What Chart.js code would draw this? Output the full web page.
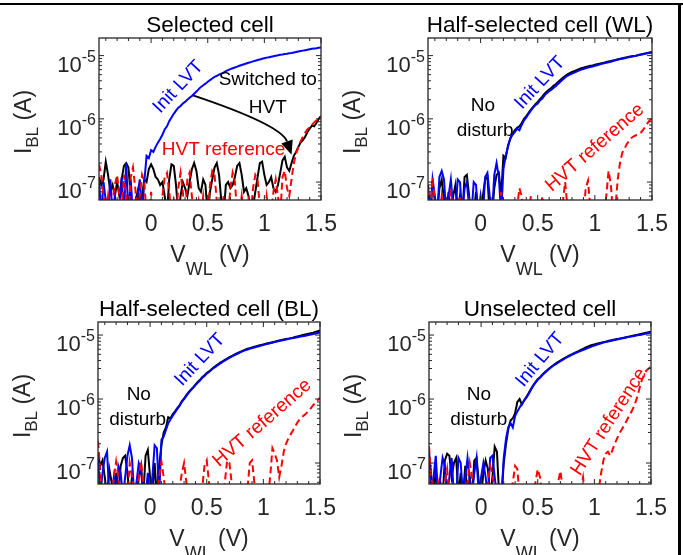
<!DOCTYPE html>
<html>
<head>
<meta charset="utf-8">
<script src="https://cdn.jsdelivr.net/npm/chart.js@4.4.0/dist/chart.umd.min.js"></script>
<style>
  html, body { margin: 0; padding: 0; background: #fff; }
  #page { position: relative; width: 683px; height: 555px; overflow: hidden; background: #fff; }
  #page canvas { position: absolute; }
  .rule { position: absolute; background: #000; }
</style>
</head>
<body>
<div id="page">
  <canvas id="c1" width="340" height="280" style="left:0;top:0"></canvas>
  <canvas id="c2" width="343" height="280" style="left:340px;top:0"></canvas>
  <canvas id="c3" width="340" height="275" style="left:0;top:280px"></canvas>
  <canvas id="c4" width="343" height="275" style="left:340px;top:280px"></canvas>
  <div class="rule" style="left:0;top:3px;width:683px;height:2px"></div>
  <div class="rule" style="left:678px;top:3px;width:3px;height:552px"></div>
</div>
<script>
(function () {
  "use strict";

  // V_WL sweep (V), shared by every curve
  var voltage = [
    -0.46, -0.44, -0.42, -0.40, -0.38, -0.36, -0.34, -0.32, -0.30, -0.28,
    -0.26, -0.24, -0.22, -0.20, -0.18, -0.16, -0.14, -0.12, -0.10, -0.08,
    -0.06, -0.04, -0.02, 0, 0.02, 0.04, 0.06, 0.08, 0.10, 0.12,
    0.14, 0.16, 0.18, 0.20, 0.22, 0.24, 0.26, 0.28, 0.30, 0.32,
    0.34, 0.36, 0.38, 0.40, 0.42, 0.44, 0.46, 0.48, 0.50, 0.52,
    0.54, 0.56, 0.58, 0.60, 0.62, 0.64, 0.66, 0.68, 0.70, 0.72,
    0.74, 0.76, 0.78, 0.80, 0.82, 0.84, 0.86, 0.88, 0.90, 0.92,
    0.94, 0.96, 0.98, 1.00, 1.02, 1.04, 1.06, 1.08, 1.10, 1.12,
    1.14, 1.16, 1.18, 1.20, 1.22, 1.24, 1.26, 1.28, 1.30, 1.32,
    1.34, 1.36, 1.38, 1.40, 1.42, 1.44, 1.46, 1.48, 1.50
  ];

  // I_BL (A), selected cell
  var selBlue = [
    1.1e-7, 3e-8, 1.0e-7, 5e-8, 3e-8, 1.1e-7, 3e-8, 6e-8, 3e-8, 3e-8,
    1.2e-7, 3e-8, 2.0e-7, 3e-8, 1.1e-7, 3e-8, 3e-8, 6e-8, 1.1e-7, 3e-8,
    1.0e-7, 2.6e-7, 2.4e-7, 3.2e-7, 3.0e-7, 3.6e-7, 4.2e-7, 4.8e-7, 5.6e-7, 6.8e-7,
    7.6e-7, 9.2e-7, 1.05e-6, 1.2e-6, 1.35e-6, 1.5e-6, 1.6e-6, 1.75e-6, 1.85e-6, 2.0e-6,
    2.15e-6, 2.3e-6, 2.5e-6, 2.7e-6, 2.95e-6, 3.2e-6, 3.4e-6, 3.6e-6, 3.85e-6, 4.1e-6,
    4.35e-6, 4.6e-6, 4.8e-6, 5.0e-6, 5.2e-6, 5.4e-6, 5.7e-6, 5.9e-6, 6.1e-6, 6.3e-6,
    6.5e-6, 6.7e-6, 6.9e-6, 7.1e-6, 7.3e-6, 7.5e-6, 7.7e-6, 7.9e-6, 8.1e-6, 8.3e-6,
    8.5e-6, 8.7e-6, 8.9e-6, 9.1e-6, 9.3e-6, 9.4e-6, 9.6e-6, 9.8e-6, 9.95e-6, 1.01e-5,
    1.03e-5, 1.04e-5, 1.06e-5, 1.07e-5, 1.09e-5, 1.1e-5, 1.12e-5, 1.14e-5, 1.16e-5, 1.18e-5,
    1.2e-5, 1.22e-5, 1.24e-5, 1.26e-5, 1.28e-5, 1.3e-5, 1.31e-5, 1.33e-5, 1.35e-5
  ];
  var selBlack = [
    1.2e-7, 9e-8, 1.1e-7, 2.1e-7, 1.3e-7, 7e-8, 9e-8, 6e-8, 1.0e-7, 6e-8,
    1.1e-7, 1.8e-7, 2.0e-7, 1.7e-7, 6e-8, 3e-8, 5e-8, 7e-8, 3e-8, 6e-8,
    1.1e-7, 1.0e-7, 1.6e-7, 1.9e-7, 1.6e-7, 1.2e-7, 1.1e-7, 9e-8, 1.0e-7, 6e-8,
    3e-8, 1.1e-7, 1.9e-7, 1.8e-7, 9e-8, 3e-8, 6e-8, 1.0e-7, 8e-8, 6e-8,
    1.0e-7, 1.6e-7, 2.0e-7, 1.5e-7, 8e-8, 7e-8, 1.1e-7, 9e-8, 3e-8, 7e-8,
    1.1e-7, 1.7e-7, 2.0e-7, 1.3e-7, 5e-8, 3e-8, 9e-8, 1.0e-7, 8e-8, 9e-8,
    1.2e-7, 1.8e-7, 2.0e-7, 1.3e-7, 7e-8, 8e-8, 6e-8, 3e-8, 4e-8, 7e-8,
    1.2e-7, 2.0e-7, 2.1e-7, 1.3e-7, 9e-8, 1.0e-7, 1.2e-7, 8e-8, 7e-8, 9e-8,
    1.4e-7, 2.2e-7, 2.5e-7, 1.7e-7, 1.5e-7, 2.0e-7, 2.6e-7, 3.0e-7, 3.6e-7, 4.2e-7,
    4.6e-7, 5.2e-7, 6.2e-7, 7.0e-7, 7.8e-7, 7.6e-7, 8.6e-7, 1.0e-6, 1.1e-6
  ];
  var selRed = [
    1.9e-7, 1.3e-7, 6e-8, 3e-8, 6e-8, 3e-8, 5e-8, 9e-8, 1.3e-7, 6e-8,
    3e-8, 1.3e-7, 6e-8, 3e-8, 1.2e-7, 1.7e-7, 8e-8, 3e-8, 6e-8, 1.3e-7,
    1.0e-7, 3e-8, 3e-8, 7e-8, 3e-8, 5e-8, 3e-8, 3e-8, 6e-8, 1.2e-7,
    1.4e-7, 7e-8, 3e-8, 5e-8, 3e-8, 8e-8, 1.4e-7, 7e-8, 3e-8, 1.1e-7,
    1.4e-7, 6e-8, 3e-8, 3e-8, 5e-8, 3e-8, 6e-8, 3e-8, 3e-8, 9e-8,
    1.5e-7, 1.3e-7, 5e-8, 3e-8, 3e-8, 6e-8, 3e-8, 3e-8, 8e-8, 1.4e-7,
    1.0e-7, 3e-8, 3e-8, 6e-8, 3e-8, 3e-8, 5e-8, 3e-8, 8e-8, 1.3e-7,
    1.1e-7, 4e-8, 3e-8, 3e-8, 6e-8, 3e-8, 3e-8, 7e-8, 1.1e-7, 6e-8,
    3e-8, 1.2e-7, 1.5e-7, 8e-8, 6e-8, 1.1e-7, 2.0e-7, 2.8e-7, 3.6e-7, 4.4e-7,
    5.2e-7, 6.0e-7, 6.8e-7, 7.4e-7, 8.0e-7, 8.8e-7, 9.5e-7, 1.03e-6, 1.1e-6
  ];

  // I_BL (A), half-selected cell (WL)
  var wlBlue = [
    6e-8, 3e-8, 1.1e-7, 6e-8, 3e-8, 1.2e-7, 1.5e-7, 1.1e-7, 3e-8, 6e-8,
    1.1e-7, 4e-8, 3e-8, 1.1e-7, 1.0e-7, 3e-8, 8e-8, 1.0e-7, 4e-8, 3e-8,
    1.0e-7, 9e-8, 3e-8, 6e-8, 3e-8, 1.2e-7, 1.4e-7, 6e-8, 3e-8, 1.3e-7,
    2.0e-7, 1.2e-7, 3e-8, 1.6e-7, 2.6e-7, 3.6e-7, 5.0e-7, 5.6e-7, 6.2e-7, 7.0e-7,
    6.6e-7, 8.0e-7, 9.5e-7, 1.05e-6, 1.2e-6, 1.35e-6, 1.5e-6, 1.65e-6, 1.75e-6, 1.95e-6,
    2.1e-6, 2.35e-6, 2.55e-6, 2.75e-6, 2.9e-6, 3.1e-6, 3.3e-6, 3.6e-6, 3.9e-6, 4.2e-6,
    4.5e-6, 4.8e-6, 5.0e-6, 5.2e-6, 5.4e-6, 5.6e-6, 5.8e-6, 6.0e-6, 6.15e-6, 6.3e-6,
    6.45e-6, 6.6e-6, 6.75e-6, 6.9e-6, 7.05e-6, 7.2e-6, 7.4e-6, 7.55e-6, 7.7e-6, 7.85e-6,
    8.0e-6, 8.2e-6, 8.4e-6, 8.6e-6, 8.8e-6, 8.95e-6, 9.1e-6, 9.3e-6, 9.45e-6, 9.6e-6,
    9.8e-6, 9.95e-6, 1.01e-5, 1.03e-5, 1.05e-5, 1.07e-5, 1.09e-5, 1.1e-5, 1.12e-5
  ];
  var wlBlack = [
    9e-8, 3e-8, 1.0e-7, 5e-8, 3e-8, 8e-8, 1.1e-7, 5e-8, 3e-8, 7e-8,
    3e-8, 6e-8, 9e-8, 3e-8, 6e-8, 3e-8, 1.2e-7, 1.3e-7, 6e-8, 3e-8,
    3e-8, 7e-8, 3e-8, 3e-8, 6e-8, 1.1e-7, 1.2e-7, 3e-8, 3e-8, 8e-8,
    1.3e-7, 1.4e-7, 6e-8, 2.6e-7, 2.4e-7, 3.8e-7, 4.8e-7, 5.8e-7, 6.6e-7, 7.2e-7,
    7.6e-7, 8.6e-7, 1.0e-6, 1.1e-6, 1.25e-6, 1.4e-6, 1.55e-6, 1.7e-6, 1.85e-6, 2.05e-6,
    2.25e-6, 2.5e-6, 2.7e-6, 2.9e-6, 3.1e-6, 3.35e-6, 3.55e-6, 3.85e-6, 4.15e-6, 4.45e-6,
    4.75e-6, 5.05e-6, 5.3e-6, 5.5e-6, 5.7e-6, 5.9e-6, 6.1e-6, 6.3e-6, 6.45e-6, 6.6e-6,
    6.75e-6, 6.9e-6, 7.0e-6, 7.15e-6, 7.3e-6, 7.45e-6, 7.6e-6, 7.75e-6, 7.9e-6, 8.05e-6,
    8.2e-6, 8.4e-6, 8.55e-6, 8.75e-6, 8.9e-6, 9.1e-6, 9.25e-6, 9.4e-6, 9.6e-6, 9.75e-6,
    9.9e-6, 1.0e-5, 1.02e-5, 1.04e-5, 1.06e-5, 1.08e-5, 1.1e-5, 1.12e-5, 1.14e-5
  ];
  var wlRed = [
    8e-8, 3e-8, 1.2e-7, 5e-8, 3e-8, 3e-8, 6e-8, 3e-8, 3e-8, 5e-8,
    7e-8, 3e-8, 3e-8, 3e-8, 6e-8, 3e-8, 3e-8, 3e-8, 5e-8, 3e-8,
    3e-8, 3e-8, 3e-8, 6e-8, 3e-8, 3e-8, 3e-8, 3e-8, 3e-8, 5e-8,
    3e-8, 3e-8, 7e-8, 3e-8, 3e-8, 3e-8, 3e-8, 3e-8, 3e-8, 4e-8,
    8e-8, 6e-8, 3e-8, 3e-8, 3e-8, 6e-8, 3e-8, 3e-8, 3e-8, 3e-8,
    6e-8, 3e-8, 3e-8, 3e-8, 3e-8, 3e-8, 3e-8, 3e-8, 3e-8, 5e-8,
    1.0e-7, 4e-8, 3e-8, 3e-8, 3e-8, 3e-8, 3e-8, 3e-8, 3e-8, 8e-8,
    1.05e-7, 4e-8, 3e-8, 3e-8, 3e-8, 3e-8, 3e-8, 3e-8, 6e-8, 1.5e-7,
    9e-8, 3e-8, 4e-8, 1.1e-7, 2.0e-7, 2.9e-7, 3.4e-7, 4.0e-7, 4.5e-7, 5.0e-7,
    5.3e-7, 5.5e-7, 5.7e-7, 6.0e-7, 6.6e-7, 7.5e-7, 8.5e-7, 9.5e-7, 1.0e-6
  ];

  // I_BL (A), half-selected cell (BL)
  var blBlue = [
    1.3e-7, 3e-8, 7e-8, 1.2e-7, 1.5e-7, 3e-8, 3e-8, 6e-8, 3e-8, 9e-8,
    7e-8, 3e-8, 6e-8, 1.3e-7, 1.9e-7, 1.2e-7, 3e-8, 5e-8, 1.0e-7, 8e-8,
    3e-8, 3e-8, 7e-8, 3e-8, 6e-8, 1.9e-7, 1.7e-7, 3e-8, 2.3e-7, 2.6e-7,
    3.3e-7, 4.2e-7, 4.8e-7, 5.5e-7, 6.2e-7, 7.0e-7, 7.8e-7, 9.0e-7, 1.0e-6, 1.12e-6,
    1.25e-6, 1.38e-6, 1.5e-6, 1.65e-6, 1.8e-6, 1.95e-6, 2.15e-6, 2.3e-6, 2.5e-6, 2.65e-6,
    2.85e-6, 3.05e-6, 3.2e-6, 3.4e-6, 3.6e-6, 3.8e-6, 4.0e-6, 4.2e-6, 4.4e-6, 4.6e-6,
    4.8e-6, 5.0e-6, 5.2e-6, 5.4e-6, 5.6e-6, 5.8e-6, 5.95e-6, 6.1e-6, 6.25e-6, 6.4e-6,
    6.55e-6, 6.7e-6, 6.85e-6, 7.0e-6, 7.15e-6, 7.3e-6, 7.45e-6, 7.6e-6, 7.75e-6, 7.9e-6,
    8.05e-6, 8.2e-6, 8.35e-6, 8.5e-6, 8.65e-6, 8.8e-6, 8.95e-6, 9.1e-6, 9.25e-6, 9.4e-6,
    9.55e-6, 9.7e-6, 9.85e-6, 1.0e-5, 1.02e-5, 1.04e-5, 1.06e-5, 1.08e-5, 1.1e-5
  ];
  var blBlack = [
    1.4e-7, 9e-8, 1.1e-7, 6e-8, 3e-8, 8e-8, 5e-8, 3e-8, 7e-8, 3e-8,
    9e-8, 1.2e-7, 1.3e-7, 7e-8, 3e-8, 6e-8, 3e-8, 3e-8, 6e-8, 9e-8,
    3e-8, 1.3e-7, 1.6e-7, 6e-8, 3e-8, 1.0e-7, 3e-8, 9e-8, 1.9e-7, 3.0e-7,
    3.6e-7, 5.2e-7, 5.0e-7, 5.8e-7, 6.4e-7, 7.2e-7, 8.0e-7, 9.2e-7, 1.02e-6, 1.15e-6,
    1.28e-6, 1.4e-6, 1.52e-6, 1.68e-6, 1.85e-6, 2.0e-6, 2.2e-6, 2.35e-6, 2.55e-6, 2.7e-6,
    2.9e-6, 3.1e-6, 3.3e-6, 3.5e-6, 3.7e-6, 3.9e-6, 4.1e-6, 4.3e-6, 4.5e-6, 4.7e-6,
    4.9e-6, 5.1e-6, 5.3e-6, 5.5e-6, 5.7e-6, 5.9e-6, 6.1e-6, 6.25e-6, 6.4e-6, 6.55e-6,
    6.7e-6, 6.85e-6, 7.0e-6, 7.15e-6, 7.3e-6, 7.45e-6, 7.6e-6, 7.75e-6, 7.9e-6, 8.05e-6,
    8.2e-6, 8.35e-6, 8.5e-6, 8.65e-6, 8.8e-6, 8.95e-6, 9.1e-6, 9.3e-6, 9.5e-6, 9.7e-6,
    9.9e-6, 1.01e-5, 1.03e-5, 1.05e-5, 1.07e-5, 1.09e-5, 1.12e-5, 1.15e-5, 1.18e-5
  ];
  var blRed = [
    2.2e-7, 8e-8, 3e-8, 3e-8, 3e-8, 5e-8, 3e-8, 6e-8, 1.05e-7, 6e-8,
    3e-8, 3e-8, 5e-8, 3e-8, 1.0e-7, 6e-8, 3e-8, 3e-8, 6e-8, 1.05e-7,
    5e-8, 3e-8, 3e-8, 3e-8, 4e-8, 3e-8, 3e-8, 6e-8, 1.05e-7, 6e-8,
    3e-8, 3e-8, 3e-8, 3e-8, 3e-8, 3e-8, 4e-8, 7e-8, 1.0e-7, 5e-8,
    3e-8, 3e-8, 3e-8, 3e-8, 3e-8, 3e-8, 4e-8, 9e-8, 1.1e-7, 5e-8,
    3e-8, 3e-8, 3e-8, 3e-8, 3e-8, 3e-8, 5e-8, 1.1e-7, 1.0e-7, 5e-8,
    3e-8, 3e-8, 3e-8, 3e-8, 3e-8, 3e-8, 4e-8, 1.0e-7, 1.1e-7, 5e-8,
    3e-8, 3e-8, 3e-8, 3e-8, 3e-8, 3e-8, 6e-8, 1.7e-7, 1.4e-7, 1.1e-7,
    6e-8, 9e-8, 1.5e-7, 2.0e-7, 2.4e-7, 2.8e-7, 3.2e-7, 3.7e-7, 4.3e-7, 4.8e-7,
    5.2e-7, 5.6e-7, 6.0e-7, 6.5e-7, 7.2e-7, 8.0e-7, 8.8e-7, 9.6e-7, 1.05e-6
  ];

  // I_BL (A), unselected cell
  var unBlue = [
    1.4e-7, 3e-8, 6e-8, 1.3e-7, 3e-8, 6e-8, 1.2e-7, 9e-8, 3e-8, 6e-8,
    1.2e-7, 3e-8, 3e-8, 1.2e-7, 1.0e-7, 3e-8, 6e-8, 1.2e-7, 5e-8, 3e-8,
    7e-8, 1.2e-7, 3e-8, 6e-8, 1.0e-7, 6e-8, 3e-8, 1.2e-7, 1.3e-7, 6e-8,
    3e-8, 3e-8, 3e-8, 1.2e-7, 2.4e-7, 3.6e-7, 4.2e-7, 3.6e-7, 5.4e-7, 6.4e-7,
    7.4e-7, 8.4e-7, 9.4e-7, 1.05e-6, 1.2e-6, 1.4e-6, 1.6e-6, 1.8e-6, 2.0e-6, 2.15e-6,
    2.35e-6, 2.55e-6, 2.75e-6, 2.95e-6, 3.15e-6, 3.35e-6, 3.5e-6, 3.7e-6, 3.9e-6, 4.1e-6,
    4.3e-6, 4.5e-6, 4.7e-6, 4.9e-6, 5.1e-6, 5.3e-6, 5.45e-6, 5.65e-6, 5.85e-6, 6.05e-6,
    6.25e-6, 6.45e-6, 6.65e-6, 6.85e-6, 7.05e-6, 7.25e-6, 7.45e-6, 7.65e-6, 7.8e-6, 7.95e-6,
    8.1e-6, 8.25e-6, 8.4e-6, 8.55e-6, 8.7e-6, 8.85e-6, 9.0e-6, 9.15e-6, 9.3e-6, 9.45e-6,
    9.6e-6, 9.75e-6, 9.9e-6, 1.0e-5, 1.02e-5, 1.04e-5, 1.06e-5, 1.08e-5, 1.1e-5
  ];
  var unBlack = [
    1.5e-7, 6e-8, 3e-8, 8e-8, 3e-8, 5e-8, 3e-8, 1.1e-7, 1.4e-7, 1.3e-7,
    6e-8, 1.0e-7, 1.2e-7, 3e-8, 7e-8, 3e-8, 9e-8, 3e-8, 6e-8, 3e-8,
    1.1e-7, 1.2e-7, 5e-8, 3e-8, 7e-8, 1.1e-7, 8e-8, 3e-8, 6e-8, 1.8e-7,
    1.5e-7, 3e-8, 3e-8, 1.0e-7, 2.0e-7, 3.4e-7, 4.6e-7, 5.0e-7, 6.0e-7, 9.0e-7,
    1.0e-6, 8.2e-7, 9.6e-7, 1.08e-6, 1.24e-6, 1.44e-6, 1.64e-6, 1.84e-6, 2.05e-6, 2.2e-6,
    2.4e-6, 2.6e-6, 2.8e-6, 3.0e-6, 3.2e-6, 3.4e-6, 3.6e-6, 3.8e-6, 4.0e-6, 4.2e-6,
    4.4e-6, 4.6e-6, 4.8e-6, 5.0e-6, 5.2e-6, 5.4e-6, 5.6e-6, 5.85e-6, 6.1e-6, 6.35e-6,
    6.6e-6, 6.8e-6, 7.0e-6, 7.15e-6, 7.3e-6, 7.45e-6, 7.6e-6, 7.75e-6, 7.9e-6, 8.05e-6,
    8.2e-6, 8.35e-6, 8.5e-6, 8.65e-6, 8.8e-6, 8.95e-6, 9.1e-6, 9.25e-6, 9.4e-6, 9.55e-6,
    9.75e-6, 9.95e-6, 1.01e-5, 1.03e-5, 1.05e-5, 1.07e-5, 1.09e-5, 1.11e-5, 1.13e-5
  ];
  var unRed = [
    1.8e-7, 6e-8, 3e-8, 3e-8, 5e-8, 3e-8, 3e-8, 5e-8, 8e-8, 3e-8,
    3e-8, 3e-8, 4e-8, 3e-8, 3e-8, 3e-8, 3e-8, 5e-8, 1.0e-7, 6e-8,
    3e-8, 3e-8, 3e-8, 3e-8, 3e-8, 3e-8, 5e-8, 9e-8, 7e-8, 3e-8,
    3e-8, 3e-8, 3e-8, 3e-8, 3e-8, 3e-8, 3e-8, 5e-8, 9e-8, 8e-8,
    3e-8, 3e-8, 3e-8, 3e-8, 3e-8, 3e-8, 3e-8, 5e-8, 8e-8, 6e-8,
    3e-8, 3e-8, 3e-8, 3e-8, 3e-8, 3e-8, 3e-8, 5e-8, 7.5e-8, 4e-8,
    3e-8, 3e-8, 3e-8, 3e-8, 3e-8, 3e-8, 3e-8, 4e-8, 6e-8, 3e-8,
    3e-8, 3e-8, 3e-8, 3e-8, 3e-8, 4e-8, 7e-8, 1.1e-7, 1.4e-7, 1.5e-7,
    1.3e-7, 1.6e-7, 2.0e-7, 2.4e-7, 2.9e-7, 3.3e-7, 3.8e-7, 4.4e-7, 5.2e-7, 6.0e-7,
    7.0e-7, 8.6e-7, 1.1e-6, 1.5e-6, 2.0e-6, 2.4e-6, 2.8e-6, 3.0e-6, 3.2e-6
  ];

  var xTickValues = [0, 0.5, 1, 1.5];
  var xTickLabels = ["0", "0.5", "1", "1.5"];
  var yTickValues = [1e-7, 1e-6, 1e-5];
  var yTickExponents = ["-7", "-6", "-5"];

  var X_MIN = -0.46, X_MAX = 1.5;
  var BLUE = "#0000ff", RED = "#ff0000", BLACK = "#000000", AXIS = "#262626";
  var FAMILY = "'Liberation Sans', Arial, Helvetica, sans-serif";

  function font(size) {
    return size + "px " + FAMILY;
  }

  var panels = [
    {
      canvas: "c1", title: "Selected cell",
      yMin: 5.2e-8, yMax: 1.9e-5,
      pad: { left: 99, top: 38, right: 19, bottom: 80 },
      blue: selBlue, black: selBlack, red: selRed,
      notes: [
        { text: "Init LVT", at: [0.24, 3.2e-6], color: BLUE, angle: -47 },
        { text: "Switched to", at: [1.03, 4.1e-6], color: BLACK, angle: 0 },
        { text: "HVT", at: [1.03, 1.47e-6], color: BLACK, angle: 0 },
        { text: "HVT reference", at: [0.64, 3.2e-7], color: RED, angle: 0 }
      ],
      arrow: { from: [0.37, 2.35e-6], ctrl: [1.15, 8e-7], to: [1.24, 2.7e-7] }
    },
    {
      canvas: "c2", title: "Half-selected cell (WL)",
      yMin: 5.2e-8, yMax: 1.9e-5,
      pad: { left: 88, top: 38, right: 31, bottom: 80 },
      blue: wlBlue, black: wlBlack, red: wlRed,
      notes: [
        { text: "No", at: [0.02, 1.6e-6], color: BLACK, angle: 0 },
        { text: "disturb", at: [0.04, 6.4e-7], color: BLACK, angle: 0 },
        { text: "Init LVT", at: [0.52, 3.7e-6], color: BLUE, angle: -47 },
        { text: "HVT reference", at: [1.0, 3.5e-7], color: RED, angle: -41 }
      ]
    },
    {
      canvas: "c3", title: "Half-selected cell (BL)",
      yMin: 4.7e-8, yMax: 1.6e-5,
      pad: { left: 98, top: 42, right: 20, bottom: 71 },
      blue: blBlue, black: blBlack, red: blRed,
      notes: [
        { text: "No", at: [-0.1, 1.15e-6], color: BLACK, angle: 0 },
        { text: "disturb", at: [-0.11, 4.7e-7], color: BLACK, angle: 0 },
        { text: "Init LVT", at: [0.44, 4.1e-6], color: BLUE, angle: -47 },
        { text: "HVT reference", at: [0.99, 4.2e-7], color: RED, angle: -41 }
      ]
    },
    {
      canvas: "c4", title: "Unselected cell",
      yMin: 4.7e-8, yMax: 1.6e-5,
      pad: { left: 89, top: 42, right: 32, bottom: 71 },
      blue: unBlue, black: unBlack, red: unRed,
      notes: [
        { text: "No", at: [-0.02, 1.15e-6], color: BLACK, angle: 0 },
        { text: "disturb", at: [-0.02, 4.7e-7], color: BLACK, angle: 0 },
        { text: "Init LVT", at: [0.52, 4.1e-6], color: BLUE, angle: -50 },
        { text: "HVT reference", at: [1.13, 4.4e-7], color: RED, angle: -57 }
      ]
    }
  ];

  function toPoints(values) {
    return voltage.map(function (v, i) {
      return { x: v, y: values[i] };
    });
  }

  function line(ctx, x1, y1, x2, y2) {
    ctx.beginPath();
    ctx.moveTo(x1, y1);
    ctx.lineTo(x2, y2);
    ctx.stroke();
  }

  // draws text runs like V + subscript WL + " (V)" centred on x
  function drawRuns(ctx, x, y, runs) {
    var total = 0;
    runs.forEach(function (r) {
      ctx.font = font(r.size);
      r.w = ctx.measureText(r.t).width;
      total += r.w;
    });
    var cx = x - total / 2;
    ctx.textAlign = "left";
    ctx.textBaseline = "alphabetic";
    runs.forEach(function (r) {
      ctx.font = font(r.size);
      ctx.fillText(r.t, cx, y + r.dy);
      cx += r.w;
    });
  }

  function makeDecor(panel) {
    return {
      id: "panelDecor",
      afterDatasetsDraw: function (chart) {
        var ctx = chart.ctx;
        var a = chart.chartArea;
        var xs = chart.scales.x;
        var ys = chart.scales.y;
        var midX = (a.left + a.right) / 2;
        var midY = (a.top + a.bottom) / 2;

        ctx.save();

        // annotations
        panel.notes.forEach(function (n) {
          ctx.save();
          ctx.translate(xs.getPixelForValue(n.at[0]), ys.getPixelForValue(n.at[1]));
          ctx.rotate((n.angle * Math.PI) / 180);
          ctx.font = font(19);
          ctx.fillStyle = n.color;
          ctx.textAlign = "center";
          ctx.textBaseline = "middle";
          ctx.fillText(n.text, 0, 0);
          ctx.restore();
        });

        if (panel.arrow) {
          var ar = panel.arrow;
          var p0x = xs.getPixelForValue(ar.from[0]), p0y = ys.getPixelForValue(ar.from[1]);
          var cx = xs.getPixelForValue(ar.ctrl[0]), cy = ys.getPixelForValue(ar.ctrl[1]);
          var p2x = xs.getPixelForValue(ar.to[0]), p2y = ys.getPixelForValue(ar.to[1]);
          var ang = Math.atan2(p2y - cy, p2x - cx);
          var headLen = 14, headW = 6;
          var bx = p2x - headLen * Math.cos(ang), by = p2y - headLen * Math.sin(ang);
          ctx.strokeStyle = BLACK;
          ctx.lineWidth = 2;
          ctx.beginPath();
          ctx.moveTo(p0x, p0y);
          ctx.quadraticCurveTo(cx, cy, bx, by);
          ctx.stroke();
          ctx.fillStyle = BLACK;
          ctx.beginPath();
          ctx.moveTo(p2x, p2y);
          ctx.lineTo(bx - headW * Math.sin(ang), by + headW * Math.cos(ang));
          ctx.lineTo(bx + headW * Math.sin(ang), by - headW * Math.cos(ang));
          ctx.closePath();
          ctx.fill();
        }

        // axes box
        ctx.strokeStyle = AXIS;
        ctx.lineWidth = 1.3;
        ctx.strokeRect(a.left, a.top, a.right - a.left, a.bottom - a.top);

        // inward ticks
        ctx.lineWidth = 1;
        for (var k = -4; k <= 15; k++) {
          var len = k % 5 === 0 ? 5 : 3;
          var px = xs.getPixelForValue(k / 10);
          line(ctx, px, a.bottom, px, a.bottom - len);
          line(ctx, px, a.top, px, a.top + len);
        }
        for (var e = -8; e <= -5; e++) {
          for (var m = 1; m <= 9; m++) {
            var v = m * Math.pow(10, e);
            if (v <= panel.yMin || v >= panel.yMax) continue;
            var tl = m === 1 ? 5 : 3;
            var py = ys.getPixelForValue(v);
            line(ctx, a.left, py, a.left + tl, py);
            line(ctx, a.right, py, a.right - tl, py);
          }
        }

        // tick labels
        ctx.fillStyle = AXIS;
        ctx.font = font(23);
        ctx.textAlign = "center";
        ctx.textBaseline = "middle";
        xTickValues.forEach(function (v, i) {
          ctx.fillText(xTickLabels[i], xs.getPixelForValue(v), a.bottom + 25);
        });
        yTickValues.forEach(function (v, i) {
          var py = ys.getPixelForValue(v);
          ctx.font = font(16);
          var ew = ctx.measureText(yTickExponents[i]).width;
          var x0 = a.left - 3 - ew;
          ctx.textBaseline = "alphabetic";
          ctx.font = font(22);
          ctx.textAlign = "right";
          ctx.fillText("10", x0, py + 16);
          ctx.font = font(16);
          ctx.textAlign = "left";
          ctx.fillText(yTickExponents[i], x0, py + 6);
        });

        // titles
        ctx.fillStyle = BLACK;
        ctx.font = font(22.5);
        ctx.textAlign = "center";
        ctx.textBaseline = "alphabetic";
        ctx.fillText(panel.title, midX, a.top - 6);

        ctx.fillStyle = AXIS;
        drawRuns(ctx, midX, a.bottom + 62, [
          { t: "V", size: 23, dy: 0 },
          { t: "WL", size: 18, dy: 13 },
          { t: " (V)", size: 23, dy: 0 }
        ]);

        ctx.save();
        ctx.translate(a.left - 68, midY + 3);
        ctx.rotate(-Math.PI / 2);
        drawRuns(ctx, 0, 0, [
          { t: "I", size: 23, dy: 0 },
          { t: "BL", size: 17, dy: 7 },
          { t: " (A)", size: 23, dy: 0 }
        ]);
        ctx.restore();

        ctx.restore();
      }
    };
  }

  function renderPanel(panel) {
    var canvas = document.getElementById(panel.canvas);
    return new Chart(canvas, {
      type: "line",
      data: {
        datasets: [
          {
            label: "HVT reference",
            data: toPoints(panel.red),
            borderColor: RED,
            borderWidth: 2,
            borderDash: [7, 4],
            order: 1
          },
          {
            label: "Init LVT",
            data: toPoints(panel.blue),
            borderColor: BLUE,
            borderWidth: 2,
            order: 2
          },
          {
            label: "After operation",
            data: toPoints(panel.black),
            borderColor: BLACK,
            borderWidth: 2,
            order: 3
          }
        ]
      },
      options: {
        responsive: false,
        animation: false,
        events: [],
        layout: { padding: panel.pad },
        elements: { point: { radius: 0 }, line: { tension: 0 } },
        plugins: {
          legend: { display: false },
          tooltip: { enabled: false }
        },
        scales: {
          x: { type: "linear", min: X_MIN, max: X_MAX, display: false },
          y: { type: "logarithmic", min: panel.yMin, max: panel.yMax, display: false }
        }
      },
      plugins: [makeDecor(panel)]
    });
  }

  panels.forEach(renderPanel);
})();
</script>
</body>
</html>
